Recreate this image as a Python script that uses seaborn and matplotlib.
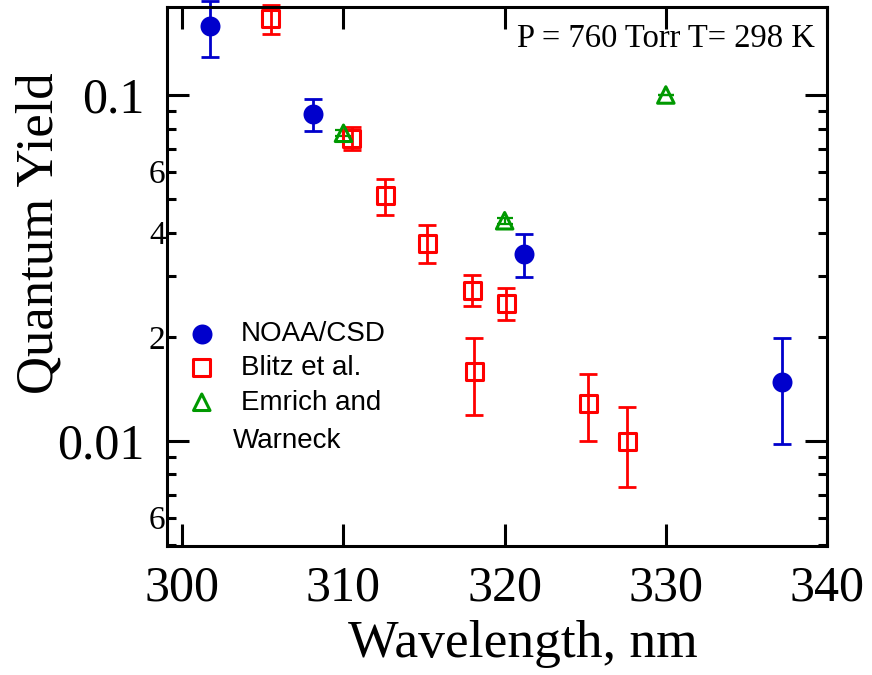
import numpy as np
import pandas as pd
import matplotlib
matplotlib.use("Agg")
import matplotlib.pyplot as plt
import seaborn as sns
from matplotlib.ticker import FixedLocator, FuncFormatter, NullLocator

# ---- data ----
noaa_wl = [301.7, 308.1, 321.2, 337.2]
noaa_qy = [0.158, 0.088, 0.0347, 0.0148]
noaa_err = [0.0295, 0.0095, 0.005, 0.005]

blitz_wl = [305.5, 310.5, 312.6, 315.2, 318.0, 320.1, 318.1, 325.2, 327.6]
blitz_qy = [0.166, 0.075, 0.0511, 0.0373, 0.0273, 0.0250, 0.0159, 0.0128, 0.00995]
blitz_err = [0.016, 0.0057, 0.0062, 0.0047, 0.0028, 0.0026, 0.004, 0.0028, 0.0026]

ew_wl = [310.0, 320.0, 330.0]
ew_qy = [0.0775, 0.0433, 0.1]
ew_err = [0.0015, 0.0008, 0.0]

x_ticks = [300, 310, 320, 330, 340]
y_major = [0.01, 0.1]
y_minor_labels = {0.006: "6", 0.02: "2", 0.04: "4", 0.06: "6"}

BLUE = "#0000CC"
RED = "#FF0000"
GREEN = "#009900"

sns.set_style("ticks")
plt.rcParams["font.family"] = ["Liberation Serif", "DejaVu Serif"]
for k in ["text.color", "axes.labelcolor", "xtick.color", "ytick.color", "axes.edgecolor"]:
    plt.rcParams[k] = "black"

fig = plt.figure(figsize=(8.72, 6.75), dpi=100)
W, H = 872, 675
ax = fig.add_axes([167 / W, 1 - 546 / H, (827 - 167) / W, (546 - 7) / H])

df_noaa = pd.DataFrame({"wl": noaa_wl, "qy": noaa_qy, "err": noaa_err})
df_blitz = pd.DataFrame({"wl": blitz_wl, "qy": blitz_qy, "err": blitz_err})
df_ew = pd.DataFrame({"wl": ew_wl, "qy": ew_qy, "err": ew_err})

ebkw = dict(fmt="none", elinewidth=2.0, capsize=6.8, capthick=2.0, clip_on=False)
ax.errorbar(df_noaa.wl, df_noaa.qy, yerr=df_noaa.err, ecolor=BLUE, zorder=2, **ebkw)
ax.errorbar(df_blitz.wl, df_blitz.qy, yerr=df_blitz.err, ecolor=RED, zorder=2, **ebkw)
ax.errorbar(df_ew.wl, df_ew.qy, yerr=df_ew.err, ecolor=GREEN, zorder=2,
            fmt="none", elinewidth=1.6, capsize=6.0, capthick=1.6, clip_on=False)

sns.scatterplot(data=df_noaa, x="wl", y="qy", ax=ax, marker="o", s=207,
                facecolor=BLUE, edgecolor=BLUE, linewidth=0, zorder=3,
                clip_on=False, label="NOAA/CSD")
sns.scatterplot(data=df_blitz, x="wl", y="qy", ax=ax, marker="s", s=149,
                facecolor="none", edgecolor=RED, linewidth=2.2, zorder=3,
                clip_on=False, label="Blitz et al.")
sns.scatterplot(data=df_ew, x="wl", y="qy", ax=ax, marker="^", s=141,
                facecolor="none", edgecolor=GREEN, linewidth=2.2, zorder=4,
                clip_on=False, label="Emrich and")

ax.set_yscale("log")
ax.set_xlim(299.05, 340)
ax.set_ylim(0.00497, 0.1796)

ax.xaxis.set_major_locator(FixedLocator(x_ticks))
ax.xaxis.set_minor_locator(NullLocator())
ax.set_xticklabels([str(t) for t in x_ticks])

ax.yaxis.set_major_locator(FixedLocator(y_major))
ax.yaxis.set_major_formatter(FuncFormatter(lambda v, p: "0.1" if abs(v - 0.1) < 1e-9 else "0.01"))
minors = [m * 10.0 ** e for e in (-3, -2) for m in range(2, 10)]
ax.yaxis.set_minor_locator(FixedLocator(minors))

def minor_fmt(v, p):
    for k, s in y_minor_labels.items():
        if abs(v - k) / k < 1e-6:
            return s
    return ""

ax.yaxis.set_minor_formatter(FuncFormatter(minor_fmt))

ax.tick_params(axis="both", which="major", direction="in", length=15.5, width=2.2,
               top=True, right=True, color="black")
ax.tick_params(axis="y", which="minor", direction="in", length=6.8, width=2.2,
               right=True, left=True, color="black")
ax.tick_params(axis="x", which="major", labelsize=36, pad=14)
ax.tick_params(axis="y", which="major", labelsize=36, pad=16)
ax.tick_params(axis="y", which="minor", labelsize=24, pad=1)

for sp in ax.spines.values():
    sp.set_visible(True)
    sp.set_linewidth(2.2)
    sp.set_color("black")

ax.set_xlabel("Wavelength, nm", fontsize=38.5)
ax.xaxis.set_label_coords((523 - 167) / 660, (546 - 620) / 539)
ax.set_ylabel("Quantum Yield", fontsize=38)
ax.yaxis.set_label_coords((64 - 167) / 660, (546 - 233) / 539)

ax.text(815 / W, 1 - 47 / H, "P = 760 Torr T= 298 K", transform=fig.transFigure,
        ha="right", va="baseline", fontsize=23.5)

leg = ax.legend(loc="upper left", bbox_to_anchor=(174 / W, 1 - 307 / H),
                bbox_transform=fig.transFigure, frameon=False, borderpad=0,
                handlelength=1.0, handletextpad=0.9, labelspacing=0.3,
                prop={"family": ["Liberation Sans", "DejaVu Sans"], "size": 20})
fig.text(233 / W, 1 - 441 / H, "Warneck", ha="left", va="center",
         fontsize=20, family=["Liberation Sans", "DejaVu Sans"])

fig.savefig("out.png", dpi=100)
